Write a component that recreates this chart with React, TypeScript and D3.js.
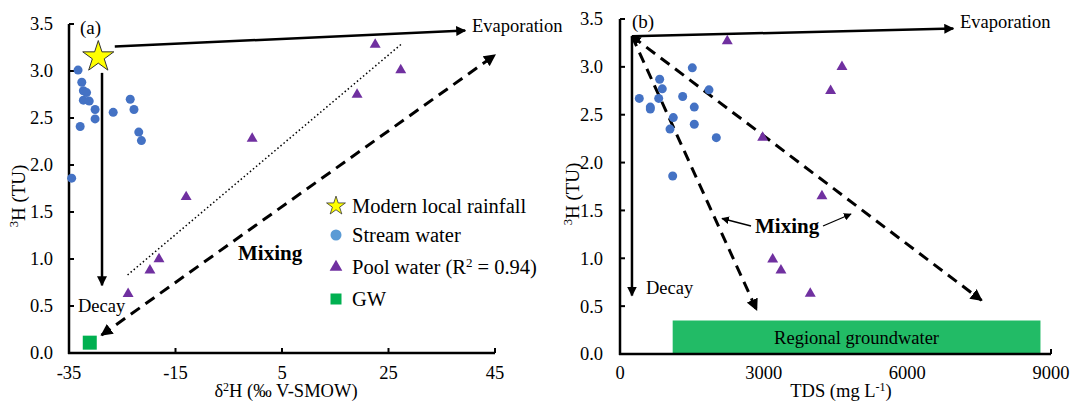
import React from "react";
import * as d3 from "d3";

// ---------- data ----------
const Y_TICKS = [0, 0.5, 1.0, 1.5, 2.0, 2.5, 3.0, 3.5];
const LEFT_X_TICKS = [-35, -15, 5, 25, 45];
const RIGHT_X_TICKS = [0, 3000, 6000, 9000];

// panel (a): δ2H vs 3H
const rainA: [number, number][] = [[-29.5, 3.15]];
const streamA: [number, number][] = [
  [-33.3, 3.01], [-32.6, 2.88], [-32.3, 2.79], [-31.7, 2.77], [-32.3, 2.69],
  [-31.2, 2.68], [-30.1, 2.59], [-30.1, 2.49], [-32.9, 2.41], [-26.7, 2.56],
  [-23.5, 2.70], [-22.8, 2.59], [-21.9, 2.35], [-21.4, 2.26], [-34.5, 1.86],
];
const poolA: [number, number][] = [
  [22.5, 3.28], [27.3, 3.01], [19.1, 2.75], [-0.6, 2.28], [-13.0, 1.66],
  [-23.9, 0.63], [-19.8, 0.88], [-18.1, 1.0],
];
const gwA: [number, number][] = [[-31.1, 0.11]];

// panel (b): TDS vs 3H
const streamB: [number, number][] = [
  [403, 2.67], [633, 2.58], [633, 2.56], [808, 2.67], [828, 2.87],
  [883, 2.77], [1113, 2.47], [1044, 2.35], [1100, 1.86], [1309, 2.69],
  [1510, 2.99], [1551, 2.58], [1551, 2.40], [1858, 2.76], [2011, 2.26],
];
const poolB: [number, number][] = [
  [2240, 3.27], [2979, 2.26], [4635, 3.0], [4398, 2.75], [4217, 1.65],
  [3188, 0.99], [3361, 0.875], [3973, 0.63],
];
const gwRangeB = { x0: 1100, x1: 8780, y0: 0, y1: 0.35 };

// annotation lines (data coordinates)
const evapA: [number, number][] = [[-26.4, 3.26], [39.4, 3.43]];
const decayA: [number, number][] = [[-28.8, 2.98], [-28.8, 0.72]];
const mixA: [number, number][] = [[-28.9, 0.19], [45.0, 3.17]];
const fitA: [number, number][] = [[-24.0, 0.83], [27.5, 3.29]];

const originB: [number, number] = [250, 3.32];
const evapB: [number, number] = [6960, 3.40];
const decayB: [number, number] = [250, 0.61];
const mixB1: [number, number] = [2854, 0.46];
const mixB2: [number, number] = [7551, 0.56];

const LEGEND = ["Modern local rainfall", "Stream water", "Pool water", "GW"];

// ---------- styles ----------
const FONT = "'Liberation Serif', 'Times New Roman', serif";
const C_BLUE = "#4472C4";
const C_BLUE_LEG = "#5B9BD5";
const C_PURPLE = "#7030A0";
const C_GREEN = "#00B050";
const C_RECT = "#22BB66";

export default function App() {
  const W = 1074, H = 403;
  const xA = d3.scaleLinear().domain([-35, 45]).range([69, 495]);
  const yA = d3.scaleLinear().domain([0, 3.5]).range([353, 24]);
  const xB = d3.scaleLinear().domain([0, 9000]).range([620, 1051]);
  const yB = d3.scaleLinear().domain([0, 3.5]).range([354, 19]);

  const tri = d3.symbol().type(d3.symbolTriangle).size(52)()!;
  const triLeg = d3.symbol().type(d3.symbolTriangle).size(70)()!;
  const star = d3.symbol().type(d3.symbolStar).size(300)()!;
  const starLeg = d3.symbol().type(d3.symbolStar).size(110)()!;

  const lineA = d3.line<[number, number]>().x(d => xA(d[0])).y(d => yA(d[1]));
  const lineB = d3.line<[number, number]>().x(d => xB(d[0])).y(d => yB(d[1]));

  const yAxis = (x: any, y: any, axX: number, labelX: number) => (
    <g>
      {Y_TICKS.map(t => (
        <g key={t}>
          <line x1={axX} x2={axX + 5} y1={y(t)} y2={y(t)} stroke="#000" strokeWidth={2} />
          <text x={labelX} y={y(t)} dy="0.35em" textAnchor="end" fontSize={18.5}>{t.toFixed(1)}</text>
        </g>
      ))}
      <line x1={axX} x2={axX} y1={y(0) + 1} y2={y(3.5)} stroke="#000" strokeWidth={2.5} />
    </g>
  );

  return (
    <svg width={W} height={H} style={{ position: "absolute", left: 0, top: 0, background: "#fff" }} fontFamily={FONT}>
      <defs>
        <marker id="ah" viewBox="0 0 10 10" refX="9" refY="5" markerWidth="4" markerHeight="4" orient="auto-start-reverse" markerUnits="strokeWidth">
          <path d="M0,0 L10,5 L0,10 z" fill="#000" />
        </marker>
        <marker id="ahb" viewBox="0 0 10 10" refX="9" refY="5" markerWidth="3.2" markerHeight="3.2" orient="auto-start-reverse" markerUnits="strokeWidth">
          <path d="M0,0 L10,5 L0,10 z" fill="#000" />
        </marker>
        <marker id="ahs" viewBox="0 0 10 10" refX="9" refY="5" markerWidth="6" markerHeight="6" orient="auto-start-reverse" markerUnits="strokeWidth">
          <path d="M0,0 L10,5 L0,10 z" fill="#000" />
        </marker>
      </defs>

      {/* ---------------- Panel (a) ---------------- */}
      {yAxis(xA, yA, xA(-35), 53)}
      {LEFT_X_TICKS.map(t => (
        <g key={t}>
          <line x1={xA(t)} x2={xA(t)} y1={yA(0)} y2={yA(0) - 5} stroke="#000" strokeWidth={2} />
          <text x={xA(t)} y={379} textAnchor="middle" fontSize={18.5}>{t}</text>
        </g>
      ))}
      <line x1={xA(-35) - 1} x2={xA(45)} y1={yA(0)} y2={yA(0)} stroke="#000" strokeWidth={2.5} />
      <text x={286} y={397} textAnchor="middle" fontSize={18.5}>
        δ<tspan dy={-6.5} fontSize={12}>2</tspan><tspan dy={6.5}>H (‰ V-SMOW)</tspan>
      </text>
      <text transform={`translate(25,196) rotate(-90)`} textAnchor="middle" fontSize={19}>
        <tspan dy={-7} fontSize={12.5}>3</tspan><tspan dy={7}>H (TU)</tspan>
      </text>
      <text x={80} y={34} fontSize={19}>(a)</text>

      <path d={lineA(fitA)!} stroke="#000" strokeWidth={1.5} strokeDasharray="1.5,2.5" fill="none" />
      <path d={lineA(mixA)!} stroke="#000" strokeWidth={3} strokeDasharray="11,7" fill="none" markerStart="url(#ah)" markerEnd="url(#ah)" />
      <path d={lineA(evapA)!} stroke="#000" strokeWidth={2.5} fill="none" markerEnd="url(#ah)" />
      <path d={lineA(decayA)!} stroke="#000" strokeWidth={2.5} fill="none" markerEnd="url(#ah)" />
      <text x={472} y={32} fontSize={18.5}>Evaporation</text>
      <text x={78} y={312} fontSize={18.5}>Decay</text>
      <text x={238} y={260} fontSize={21} fontWeight="bold">Mixing</text>

      {streamA.map((d, i) => <circle key={i} cx={xA(d[0])} cy={yA(d[1])} r={4.5} fill={C_BLUE} />)}
      {poolA.map((d, i) => <path key={i} d={tri} transform={`translate(${xA(d[0])},${yA(d[1])})`} fill={C_PURPLE} />)}
      {gwA.map((d, i) => <rect key={i} x={xA(d[0]) - 7} y={yA(d[1]) - 7} width={14} height={14} fill={C_GREEN} />)}
      {rainA.map((d, i) => <path key={i} d={star} transform={`translate(${xA(d[0])},${yA(d[1])})`} fill="#FFFF00" stroke="#333" strokeWidth={1} />)}

      {/* legend */}
      <g fontSize={20.5}>
        <path d={starLeg} transform="translate(336,206)" fill="#FFFF00" stroke="#333" strokeWidth={0.8} />
        <text x={352} y={206} dy="0.35em">{LEGEND[0]}</text>
        <circle cx={336} cy={235} r={5.5} fill={C_BLUE_LEG} />
        <text x={352} y={235} dy="0.35em">{LEGEND[1]}</text>
        <path d={triLeg} transform="translate(336,267)" fill={C_PURPLE} />
        <text x={352} y={267} dy="0.35em">{LEGEND[2]} (R<tspan dy={-7} fontSize={13}>2</tspan><tspan dy={7}> = 0.94)</tspan></text>
        <rect x={330.5} y={293.5} width={11} height={11} fill={C_GREEN} />
        <text x={352} y={299} dy="0.35em">{LEGEND[3]}</text>
      </g>

      {/* ---------------- Panel (b) ---------------- */}
      {RIGHT_X_TICKS.map(t => (
        <g key={t}>
          <line x1={xB(t)} x2={xB(t)} y1={yB(0)} y2={yB(0) - 5} stroke="#000" strokeWidth={2} />
          <text x={xB(t)} y={379} textAnchor="middle" fontSize={18.5}>{t}</text>
        </g>
      ))}
      <rect x={xB(gwRangeB.x0)} y={yB(gwRangeB.y1)} width={xB(gwRangeB.x1) - xB(gwRangeB.x0)} height={yB(gwRangeB.y0) - yB(gwRangeB.y1)} fill={C_RECT} />
      <text x={(xB(gwRangeB.x0) + xB(gwRangeB.x1)) / 2} y={338} dy="0.35em" textAnchor="middle" fontSize={18.5}>Regional groundwater</text>
      {yAxis(xB, yB, xB(0), 603)}
      <line x1={xB(0) - 1} x2={xB(9000)} y1={yB(0)} y2={yB(0)} stroke="#000" strokeWidth={2.5} />
      <text x={841} y={397} textAnchor="middle" fontSize={18.5}>
        TDS (mg L<tspan dy={-6.5} fontSize={12}>-1</tspan><tspan dy={6.5}>)</tspan>
      </text>
      <text transform={`translate(579,194) rotate(-90)`} textAnchor="middle" fontSize={19}>
        <tspan dy={-7} fontSize={12.5}>3</tspan><tspan dy={7}>H (TU)</tspan>
      </text>
      <text x={632} y={28} fontSize={19}>(b)</text>

      <path d={lineB([originB, evapB])!} stroke="#000" strokeWidth={2.5} fill="none" markerEnd="url(#ah)" />
      <path d={lineB([originB, decayB])!} stroke="#000" strokeWidth={2.5} fill="none" markerEnd="url(#ah)" />
      <path d={lineB([originB, mixB1])!} stroke="#000" strokeWidth={3} strokeDasharray="11,7" fill="none" markerEnd="url(#ah)" />
      <path d={lineB([originB, mixB2])!} stroke="#000" strokeWidth={3} strokeDasharray="11,7" fill="none" markerStart="url(#ahb)" markerEnd="url(#ah)" />
      <text x={960} y={28} fontSize={18.5}>Evaporation</text>
      <text x={646} y={294} fontSize={18.5}>Decay</text>
      <text x={755} y={233} fontSize={21} fontWeight="bold">Mixing</text>
      <line x1={751} y1={226} x2={722} y2={218.5} stroke="#000" strokeWidth={1.3} markerEnd="url(#ahs)" />
      <line x1={823} y1={226} x2={851} y2={214} stroke="#000" strokeWidth={1.3} markerEnd="url(#ahs)" />

      {streamB.map((d, i) => <circle key={i} cx={xB(d[0])} cy={yB(d[1])} r={4.5} fill={C_BLUE} />)}
      {poolB.map((d, i) => <path key={i} d={tri} transform={`translate(${xB(d[0])},${yB(d[1])})`} fill={C_PURPLE} />)}
    </svg>
  );
}
